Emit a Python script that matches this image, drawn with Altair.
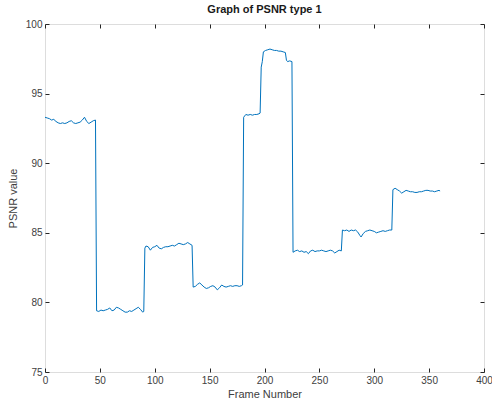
import altair as alt
import pandas as pd

frames = [
    0, 2, 4, 6, 8, 10, 12, 14, 16, 18, 20, 22, 24, 26, 28, 30, 32, 34, 36, 38, 40, 42, 44, 46,
    47, 49, 51, 53, 55, 57, 59, 61, 63, 65, 67, 69, 71, 73, 75, 77, 79, 81, 83, 85, 87, 89, 90,
    91, 92, 94, 96, 98, 100, 102, 104, 106, 108, 110, 112, 114, 116, 118, 120, 122, 124, 126, 128, 130, 132, 134,
    135, 137, 139, 141, 143, 145, 147, 149, 151, 153, 155, 157, 159, 161, 163, 165, 167, 169, 171, 173, 175, 177, 179, 180,
    181, 183, 185, 187, 189, 191, 193, 195, 196, 197, 198, 199, 201, 203, 205, 207, 209, 211, 213, 215, 217, 219, 220, 221, 223, 225,
    226, 228, 230, 232, 234, 236, 238, 240, 242, 244, 246, 248, 250, 252, 254, 256, 258, 260, 262, 264, 266, 268, 270,
    271, 273, 275, 277, 279, 281, 283, 285, 287, 288, 290, 292, 294, 296, 298, 300, 302, 304, 306, 308, 310, 312, 314, 316,
    317, 319, 321, 323, 325, 327, 329, 331, 333, 335, 337, 339, 341, 343, 345, 347, 349, 351, 353, 355, 357, 359, 360,
]

psnr = [
    93.3, 93.25, 93.2, 93.1, 93.15, 93.0, 92.9, 92.85, 92.9, 92.85, 92.9, 93.0, 93.05, 92.9, 92.85, 92.9, 92.95, 93.1, 93.3, 93.0, 92.85, 92.95, 93.05, 93.1,
    79.4, 79.35, 79.45, 79.4, 79.45, 79.5, 79.6, 79.4, 79.45, 79.65, 79.6, 79.5, 79.4, 79.3, 79.3, 79.4, 79.35, 79.45, 79.55, 79.65, 79.5, 79.3, 79.35,
    83.9, 84.05, 84.0, 83.75, 83.95, 84.0, 84.1, 83.9, 83.85, 83.95, 84.0, 84.0, 84.05, 84.1, 84.05, 84.15, 84.25, 84.2, 84.15, 84.2, 84.3, 84.2, 84.1,
    81.1, 81.15, 81.3, 81.4, 81.25, 81.1, 81.0, 81.05, 81.15, 81.2, 81.1, 80.9, 81.05, 81.25, 81.15, 81.1, 81.15, 81.2, 81.15, 81.2, 81.2, 81.15, 81.2, 81.25,
    93.3, 93.5, 93.45, 93.5, 93.45, 93.5, 93.5, 93.55, 93.6, 96.9, 97.3, 98.0, 98.1, 98.15, 98.2, 98.15, 98.1, 98.1, 98.05, 98.05, 98.0, 97.95, 97.4, 97.3, 97.35, 97.3,
    83.6, 83.7, 83.75, 83.65, 83.7, 83.6, 83.65, 83.5, 83.7, 83.75, 83.65, 83.7, 83.7, 83.75, 83.7, 83.65, 83.7, 83.75, 83.7, 83.55, 83.65, 83.75, 83.7,
    85.2, 85.15, 85.2, 85.1, 85.2, 85.15, 85.2, 85.05, 84.8, 84.7, 84.95, 85.1, 85.15, 85.2, 85.15, 85.1, 85.0, 85.05, 85.1, 85.15, 85.1, 85.15, 85.2, 85.2,
    88.1, 88.2, 88.1, 88.0, 87.85, 87.95, 88.05, 88.0, 87.95, 87.95, 87.9, 87.9, 87.95, 87.95, 88.0, 88.05, 88.05, 88.0, 88.0, 87.95, 88.0, 88.05, 88.0,
]

x_ticks = [0, 50, 100, 150, 200, 250, 300, 350, 400]
y_ticks = [75, 80, 85, 90, 95, 100]

df = pd.DataFrame({"frame": frames, "psnr": psnr})

FONT = "Liberation Sans"
DARK = "#262626"
LABEL = "#404040"

xscale = alt.Scale(domain=[0, 400], nice=False, zero=False)
yscale = alt.Scale(domain=[75, 100], nice=False, zero=False)

main = alt.Chart(df).mark_line(color="#0072BD", strokeWidth=1, clip=True).encode(
    x=alt.X("frame:Q", scale=xscale,
            axis=alt.Axis(orient="bottom", values=x_ticks, title="Frame Number",
                          domain=False, ticks=True, tickSize=4, offset=-4,
                          tickColor=DARK, labelColor=LABEL, titleColor=LABEL,
                          labelFont=FONT, titleFont=FONT, labelFontSize=10, titleFontSize=11,
                          titleFontWeight="normal", labelPadding=3, titlePadding=3,
                          grid=False, format="d", labelFlush=False)),
    y=alt.Y("psnr:Q", scale=yscale,
            axis=alt.Axis(orient="left", values=y_ticks, title="PSNR value",
                          domain=False, ticks=True, tickSize=4, offset=-4,
                          tickColor=DARK, labelColor=LABEL, titleColor=LABEL,
                          labelFont=FONT, titleFont=FONT, labelFontSize=10, titleFontSize=11,
                          titleFontWeight="normal", labelPadding=3, titlePadding=7,
                          grid=False, format="d", labelFlush=False)),
)

frame_box = alt.Chart(df).mark_line(opacity=0).encode(
    x=alt.X("frame:Q", scale=xscale,
            axis=alt.Axis(orient="top", values=x_ticks, title=None, labels=False,
                          domain=False, ticks=True, tickSize=4, offset=-4,
                          tickColor=DARK, grid=False)),
    y=alt.Y("psnr:Q", scale=yscale,
            axis=alt.Axis(orient="right", values=y_ticks, title=None, labels=False,
                          domain=False, ticks=True, tickSize=4, offset=-4,
                          tickColor=DARK, grid=False)),
)

chart = alt.layer(main, frame_box).resolve_axis(
    x="independent", y="independent"
).properties(
    width=439,
    height=348,
    autosize="none",
    padding={"left": 45, "top": 24, "right": 8, "bottom": 35},
    title=alt.TitleParams("Graph of PSNR type 1", font=FONT, fontSize=11,
                          fontWeight="bold", color="#1a1a1a", offset=4, anchor="middle"),
).configure_view(stroke=DARK, strokeWidth=1).configure(background="white")

chart.save("out.html", embed_options={"renderer": "svg", "actions": False})
